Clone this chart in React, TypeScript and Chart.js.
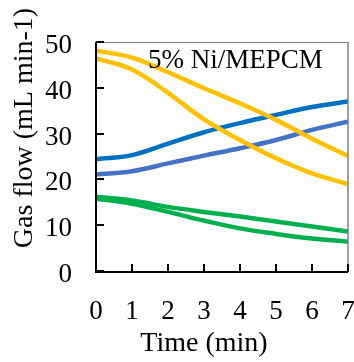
import React, { useEffect, useRef } from "react";
import { Chart, registerables } from "chart.js";

Chart.register(...registerables);

const times = [0, 1, 2, 3, 4, 5, 6, 7];
const yellowUpper = [48.1, 46.6, 43.4, 39.9, 36.6, 33.0, 28.9, 25.1];
const yellowLower = [46.4, 44.0, 38.9, 33.1, 28.6, 24.6, 21.3, 19.0];
const blueDark = [24.4, 25.3, 27.8, 30.3, 32.3, 34.1, 35.8, 37.0];
const blueLight = [21.1, 21.8, 23.5, 25.2, 26.8, 28.6, 30.8, 32.6];
const greenUpper = [16.2, 15.4, 14.0, 12.9, 11.9, 10.8, 9.7, 8.6];
const greenLower = [15.8, 14.7, 12.9, 11.0, 9.3, 8.1, 7.1, 6.4];

const xTicks = [0, 1, 2, 3, 4, 5, 6, 7];
const yTicks = [0, 10, 20, 30, 40, 50];

const yTitle = "Gas flow (mL min-1)";
const xTitle = "Time (min)";
const annotation = "5% Ni/MEPCM";

const FONT = "'Liberation Serif', 'Times New Roman', serif";

const series = [
  { data: yellowUpper, color: "#FFC000" },
  { data: yellowLower, color: "#FFC000" },
  { data: blueDark, color: "#0070C0" },
  { data: blueLight, color: "#4472C4" },
  { data: greenUpper, color: "#00B050" },
  { data: greenLower, color: "#00B050" },
];

const framePlugin = {
  id: "frame",
  afterDraw(chart: any) {
    const { ctx, chartArea, scales } = chart;
    const { left, right, top, bottom } = chartArea;
    ctx.save();
    ctx.strokeStyle = "#808080";
    ctx.lineWidth = 1;
    ctx.beginPath();
    ctx.moveTo(left, top + 0.5);
    ctx.lineTo(right, top + 0.5);
    ctx.stroke();
    ctx.lineWidth = 1.5;
    ctx.beginPath();
    ctx.moveTo(right, top);
    ctx.lineTo(right, bottom);
    ctx.stroke();
    ctx.strokeStyle = "#000";
    ctx.lineWidth = 2;
    ctx.beginPath();
    ctx.moveTo(left, top);
    ctx.lineTo(left, bottom + 1);
    ctx.lineTo(right, bottom + 1);
    ctx.stroke();
    yTicks.forEach((v) => {
      const py = Math.round(scales.y.getPixelForValue(v));
      ctx.beginPath();
      ctx.moveTo(left, py);
      ctx.lineTo(left + 8, py);
      ctx.stroke();
    });
    xTicks.forEach((v) => {
      const px = Math.round(scales.x.getPixelForValue(v));
      ctx.beginPath();
      ctx.moveTo(px, bottom + 1);
      ctx.lineTo(px, bottom - 7);
      ctx.stroke();
    });
    ctx.fillStyle = "#000";
    ctx.textBaseline = "middle";
    ctx.textAlign = "center";
    ctx.font = `28px ${FONT}`;
    ctx.fillText(xTitle, 204, 344);
    ctx.save();
    ctx.translate(25, 128);
    ctx.rotate(-Math.PI / 2);
    ctx.fillText(yTitle, 0, 0);
    ctx.restore();
    ctx.font = `27px ${FONT}`;
    ctx.textAlign = "left";
    ctx.fillText(annotation, 148, 61);
    ctx.restore();
  },
};

export default function App() {
  const ref = useRef<HTMLCanvasElement>(null);
  useEffect(() => {
    document.body.style.margin = "0";
    const chart = new Chart(ref.current!, {
      type: "line",
      data: {
        datasets: series.map((s) => ({
          data: times.map((t, i) => ({ x: t, y: s.data[i] })),
          borderColor: s.color,
          backgroundColor: s.color,
          borderWidth: 4.5,
          pointRadius: 0,
          tension: 0.4,
          fill: false,
        })),
      },
      options: {
        responsive: false,
        animation: false,
        events: [],
        layout: { padding: { top: 42, right: 6, left: 0, bottom: 0 } },
        plugins: { legend: { display: false }, tooltip: { enabled: false } },
        scales: {
          x: {
            type: "linear",
            min: 0,
            max: 7,
            afterFit: (s: any) => {
              s.height = 91;
              s.paddingLeft = 0;
              s.paddingRight = 0;
            },
            afterBuildTicks: (s: any) => {
              s.ticks = xTicks.map((v) => ({ value: v }));
            },
            grid: { display: false, drawTicks: false },
            border: { display: false },
            ticks: {
              padding: 25,
              color: "#000",
              font: { family: FONT, size: 27 },
              maxRotation: 0,
            },
          },
          y: {
            type: "linear",
            min: 0,
            max: 50,
            afterFit: (s: any) => {
              s.width = 96;
              s.paddingTop = 0;
              s.paddingBottom = 0;
            },
            afterBuildTicks: (s: any) => {
              s.ticks = yTicks.map((v) => ({ value: v }));
            },
            grid: { display: false, drawTicks: false },
            border: { display: false },
            ticks: {
              padding: 24,
              labelOffset: 4,
              color: "#000",
              font: { family: FONT, size: 27 },
            },
          },
        },
      },
      plugins: [framePlugin],
    });
    return () => chart.destroy();
  }, []);
  return (
    <div style={{ position: "absolute", left: 0, top: 0, width: 354, height: 362 }}>
      <canvas ref={ref} width={354} height={362} />
    </div>
  );
}
